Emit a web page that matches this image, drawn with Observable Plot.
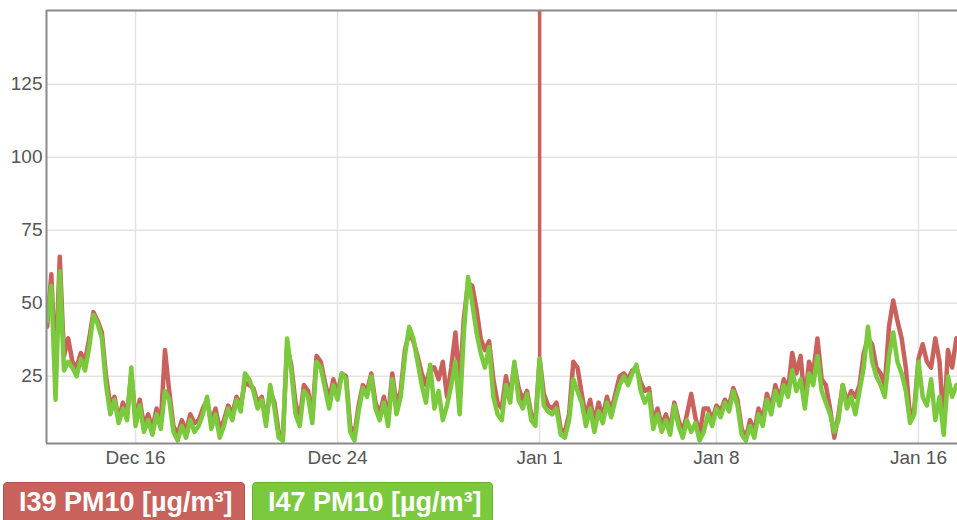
<!DOCTYPE html>
<html><head><meta charset="utf-8">
<script src="https://cdn.jsdelivr.net/npm/d3@7"></script>
<script src="https://cdn.jsdelivr.net/npm/@observablehq/plot@0.6"></script>
<style>
html,body{margin:0;padding:0;background:#fff;overflow:hidden}
#chart{position:absolute;left:0;top:0}
.leg{position:absolute;top:482px;height:44px;box-sizing:border-box;border-radius:4px;color:#fff;font:bold 27px "Liberation Sans",Arial,sans-serif;line-height:31px;padding:4px 0 0 15px;white-space:nowrap}
</style></head><body>
<div id="chart"></div>
<div id="legend"></div>
<script>
const startTime = "2024-12-12T12:00:00Z";
const stepHours = 4;
const i47 = [
 44,56,17,61,27,30, 28,25,31,27,35,46, 43,38,22,12,17,9, 14,10,28,8,15,6,
 10,5,12,7,20,17, 6,3,8,4,10,6, 8,12,18,7,12,4, 8,14,10,17,13,26,
 24,20,14,17,8,22, 14,4,3,38,27,12, 8,20,18,9,30,28, 21,14,22,17,26,24,
 6,3,13,21,18,25, 14,10,16,8,24,12, 18,32,42,38,30,22, 16,29,14,20,10,15,
 22,30,12,40,59,50, 40,33,28,35,18,12, 10,22,16,30,17,14, 19,10,8,31,15,13,
 12,14,5,4,10,24, 20,16,8,14,6,13, 9,16,11,17,22,25, 22,26,29,20,16,19,
 7,12,6,10,5,15, 8,4,10,6,9,3, 6,12,8,14,11,16, 13,20,15,5,3,8,
 4,12,8,17,12,20, 15,22,18,27,20,24, 14,26,22,32,20,16, 12,6,10,22,14,18,
 12,20,28,42,30,25, 22,18,32,40,30,26, 20,9,12,30,18,15, 24,10,18,5,25,18,
 22,20
];
const i39 = [
 42,60,26,66,32,38, 30,28,33,30,38,47, 44,40,25,15,18,10, 16,12,26,10,17,8,
 12,7,14,9,34,20, 8,5,10,6,12,9, 10,14,17,9,14,7, 10,15,12,18,15,23,
 22,21,16,18,10,20, 16,6,4,35,29,16, 10,22,20,11,32,30, 23,17,24,19,26,25,
 8,5,15,22,20,26, 16,12,18,11,26,15, 20,34,40,37,32,26, 22,28,28,24,30,18,
 28,40,22,45,57,56, 48,38,34,37,24,16, 14,25,18,29,21,17, 20,12,10,31,19,15,
 14,16,7,6,12,30, 28,19,11,17,9,16, 11,18,13,19,25,26, 24,27,28,23,20,21,
 9,14,8,12,7,16, 10,6,12,19,11,5, 14,14,10,15,13,17, 15,21,17,7,4,10,
 6,14,10,19,14,22, 17,24,20,33,26,32, 16,30,26,38,24,22, 14,4,12,22,16,20,
 18,22,33,38,36,28, 26,22,42,51,44,38, 28,11,14,31,36,30, 28,38,30,8,34,28,
 38,36
];
const i39Spike = [{date: "2025-01-01T00:00:00Z", low: 31, high: 400}];
const yTicks = [25, 50, 75, 100, 125];
const xTickDates = ["2024-12-16T00:00:00Z", "2024-12-24T00:00:00Z", "2025-01-01T00:00:00Z", "2025-01-08T00:00:00Z", "2025-01-16T00:00:00Z"];
const xTickLabels = ["Dec 16", "Dec 24", "Jan 1", "Jan 8", "Jan 16"];
const seriesNames = ["I39 PM10 [µg/m³]", "I47 PM10 [µg/m³]"];
const seriesColors = ["#c9625c", "#7bca3d"];
const legendBorders = ["#b4524c", "#69b52f"];
const xDomain = ["2024-12-12T11:24:00Z", "2025-01-17T13:05:00Z"];
const yDomain = [2, 150.3];

const t0 = Date.parse(startTime);
const toRows = (arr) => arr.map((v, i) => ({date: new Date(t0 + i * stepHours * 3600e3), value: v}));
const red = toRows(i39), green = toRows(i47);
const xDates = xTickDates.map(d => new Date(d));
const xDom = xDomain.map(d => new Date(d));
const frameColor = "#8a8a8a";
const gridColor = "#e3e3e3";

const plot = Plot.plot({
  width: 957, height: 478,
  marginLeft: 46, marginRight: 0, marginTop: 10, marginBottom: 35,
  style: {fontFamily: '"Liberation Sans", Arial, sans-serif', background: "#fff", color: "#555", overflow: "visible"},
  x: {type: "utc", domain: xDom},
  y: {domain: yDomain},
  marks: [
    Plot.gridY(yTicks, {stroke: gridColor, strokeOpacity: 1, strokeWidth: 1.5}),
    Plot.gridX(xDates, {stroke: gridColor, strokeOpacity: 1, strokeWidth: 1.5}),
    Plot.lineY(red, {x: "date", y: "value", stroke: seriesColors[0], strokeWidth: 4.5, strokeLinejoin: "round", clip: true}),
    Plot.ruleX(i39Spike, {x: d => new Date(d.date), y1: "low", y2: "high", stroke: seriesColors[0], strokeWidth: 3.5, clip: true}),
    Plot.lineY(green, {x: "date", y: "value", stroke: seriesColors[1], strokeWidth: 4.5, strokeLinejoin: "round", clip: true}),
    Plot.ruleY([yDomain[0]], {stroke: frameColor, strokeWidth: 2}),
    Plot.ruleY([yDomain[1]], {stroke: frameColor, strokeWidth: 2}),
    Plot.ruleX([xDom[0]], {stroke: frameColor, strokeWidth: 2}),
    Plot.axisY(yTicks, {tickSize: 0, tickPadding: 4, fontSize: 19}),
    Plot.axisX(xDates, {tickSize: 0, tickPadding: 7, fontSize: 19,
      tickFormat: d => xTickLabels[xDates.findIndex(t => +t === +d)]})
  ]
});
document.getElementById("chart").appendChild(plot);

const legend = document.getElementById("legend");
const lefts = [3, 252], widths = [242, 241];
seriesNames.forEach((name, i) => {
  const el = document.createElement("div");
  el.className = "leg";
  el.textContent = name;
  el.style.left = lefts[i] + "px";
  el.style.width = widths[i] + "px";
  el.style.background = seriesColors[i];
  el.style.border = "1px solid " + legendBorders[i];
  legend.appendChild(el);
});
</script>
</body></html>
